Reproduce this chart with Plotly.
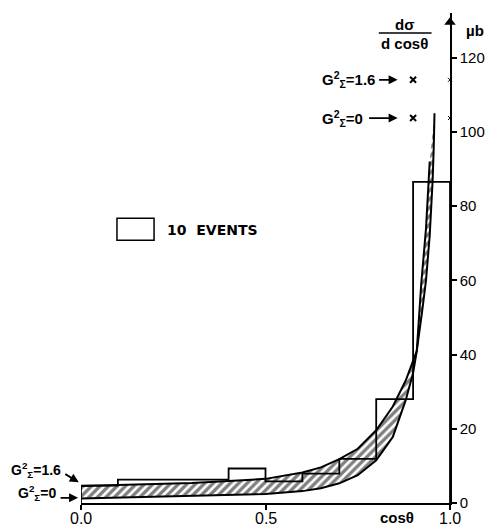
import plotly.graph_objects as go

# ---------------- data ----------------
bin_edges = [0.0, 0.1, 0.2, 0.3, 0.4, 0.5, 0.6, 0.7, 0.8, 0.9, 1.0]
counts = [4.7, 6.3, 6.3, 6.3, 9.3, 5.8, 7.9, 11.9, 28.0, 86.5]

# curve G^2 = 1.6 (upper at small cos)
cos_a = [0.0, 0.1, 0.2, 0.3, 0.4, 0.5, 0.6, 0.65, 0.7, 0.75, 0.8, 0.845, 0.88, 0.91,
         0.925, 0.935, 0.945, 0.95, 0.953, 0.956, 0.958]
dsig_a = [4.6, 4.8, 5.1, 5.4, 5.9, 6.5, 8.2, 9.6, 11.8, 14.6, 19.6, 26.0, 33.0, 41.0,
          52.0, 60.0, 72.0, 80.0, 87.0, 96.0, 105.0]

# curve G^2 = 0 (lower at small cos)
cos_b = [0.0, 0.1, 0.2, 0.3, 0.4, 0.5, 0.6, 0.65, 0.7, 0.75, 0.8, 0.845, 0.88, 0.9,
         0.91, 0.922, 0.935, 0.942, 0.945]
dsig_b = [1.2, 1.4, 1.6, 1.9, 2.1, 2.4, 3.2, 4.0, 5.3, 7.5, 11.5, 17.8, 27.7, 35.0,
          41.0, 59.0, 74.0, 86.7, 92.0]

# end-point markers
end_cos = [0.9, 0.9]
end_vals = [114.0, 103.7]

x_ticks = [0.0, 0.5, 1.0]
x_ticklabels = ["0.0", "0.5", "1.0"]
y_ticks = [0, 20, 40, 60, 80, 100, 120]

Y_MAX = 132.0

# ---------------- figure ----------------
fig = go.Figure()

# hatched band between the two curves
band_x = cos_a + cos_b[::-1]
band_y = dsig_a + dsig_b[::-1]
fig.add_trace(go.Scatter(
    x=band_x, y=band_y, mode="none", fill="toself",
    fillcolor="white",
    fillpattern=dict(shape="/", fgcolor="black", bgcolor="white", size=6, solidity=0.55),
    hoverinfo="skip", showlegend=False))

fig.add_trace(go.Scatter(x=cos_a, y=dsig_a, mode="lines",
                         line=dict(color="black", width=2), showlegend=False))
fig.add_trace(go.Scatter(x=cos_b, y=dsig_b, mode="lines",
                         line=dict(color="black", width=2), showlegend=False))

# histogram outline
x_h = [bin_edges[0]] + bin_edges + [bin_edges[-1]]
y_h = [0] + counts + [counts[-1], 0]
fig.add_trace(go.Scatter(x=x_h, y=y_h, mode="lines", line_shape="hv",
                         line=dict(color="black", width=1.8), showlegend=False))

# end-value markers and axis marks
fig.add_trace(go.Scatter(x=end_cos, y=end_vals, mode="markers",
                         marker=dict(symbol="x-thin", size=6, color="black",
                                     line=dict(width=2, color="black")),
                         cliponaxis=False, showlegend=False))
fig.add_trace(go.Scatter(x=[1.0, 1.0], y=end_vals, mode="markers",
                         marker=dict(symbol="x-thin", size=4, color="black",
                                     line=dict(width=1, color="black")),
                         cliponaxis=False, showlegend=False))

# axis arrow
fig.add_trace(go.Scatter(x=[1.0], y=[129.5], mode="markers",
                         marker=dict(symbol="triangle-up", size=10, color="black"),
                         cliponaxis=False, showlegend=False))


def P(x, y, xanchor="center"):
    """data -> paper coordinates (x range is [0,1]) with explicit anchors"""
    return dict(x=x, y=y / Y_MAX, xref="paper", yref="paper",
                xanchor=xanchor, yanchor="middle")


bold15 = dict(family="Liberation Sans", size=15, color="black")
bold14 = dict(family="Liberation Sans", size=14, color="black")
arrow = dict(text="", showarrow=True, arrowhead=2, arrowsize=1, arrowwidth=1.8,
             arrowcolor="black")

ann = []
# fraction dsigma / dcos
ann.append(dict(**P(0.877, 128.8), text="<b>dσ</b>", showarrow=False, font=bold15))
ann.append(dict(**P(0.877, 123.9), text="<b>d cosθ</b>", showarrow=False, font=bold15))
ann.append(dict(**P(1.067, 127.4), text="<b>µb</b>", showarrow=False, font=bold15))

# top labels
ann.append(dict(**P(0.803, 114.0, "right"), text="<b>G<sup>2</sup><sub>Σ</sub>=1.6</b>",
                showarrow=False, font=bold15))
ann.append(dict(**P(0.858, 114.0), ax=-20, ay=0, **arrow))
ann.append(dict(**P(0.770, 103.7, "right"), text="<b>G<sup>2</sup><sub>Σ</sub>=0</b>",
                showarrow=False, font=bold15))
ann.append(dict(**P(0.858, 103.7), ax=-30, ay=0, **arrow))

# bottom-left labels
ann.append(dict(**P(-0.05, 8.9, "right"), text="<b>G<sup>2</sup><sub>Σ</sub>=1.6</b>",
                showarrow=False, font=bold14))
ann.append(dict(**P(-0.006, 5.6), ax=-15, ay=-9, **arrow))
ann.append(dict(**P(-0.062, 2.6, "right"), text="<b>G<sup>2</sup><sub>Σ</sub>=0</b>",
                showarrow=False, font=bold14))
ann.append(dict(**P(-0.008, 1.4), ax=-19, ay=0, **arrow))

# x tick labels
for xv, tl in zip(x_ticks, x_ticklabels):
    ann.append(dict(**P(xv, -4.2), text=tl, showarrow=False,
                    font=dict(family="Liberation Sans", size=16, color="black")))

# cos theta axis title
ann.append(dict(**P(0.857, -3.9), text="<b>cosθ</b>", showarrow=False, font=bold15))

# legend text
ann.append(dict(**P(0.227, 73.5, "left"), text="<b>10\u00a0 EVENTS</b>", showarrow=False,
                font=dict(family="DejaVu Sans", size=14, color="black")))

shapes = [
    dict(type="line", xref="x", yref="y", x0=0.807, x1=0.950, y0=126.6, y1=126.6,
         line=dict(color="black", width=1.5)),
    dict(type="rect", xref="x", yref="y", x0=0.0975, x1=0.198, y0=70.8, y1=76.7,
         line=dict(color="black", width=1.5), fillcolor="white"),
]

fig.update_layout(
    width=489, height=527,
    margin=dict(l=81, r=38.6, t=13, b=24.3, autoexpand=False),
    paper_bgcolor="white", plot_bgcolor="white",
    annotations=ann, shapes=shapes, showlegend=False,
    xaxis=dict(range=[0, 1.0], tickvals=x_ticks, showticklabels=False,
               showline=True, linecolor="black", linewidth=1.5,
               ticks="outside", ticklen=5, tickcolor="black", tickwidth=1.5,
               showgrid=False, zeroline=False),
    yaxis=dict(range=[0, Y_MAX], tickvals=y_ticks, side="right",
               showline=True, linecolor="black", linewidth=1.5,
               ticks="outside", ticklen=5, tickcolor="black", tickwidth=1.5,
               showgrid=False, zeroline=False,
               tickfont=dict(family="Liberation Sans", size=15, color="black")),
)

fig.write_html("out.html")
